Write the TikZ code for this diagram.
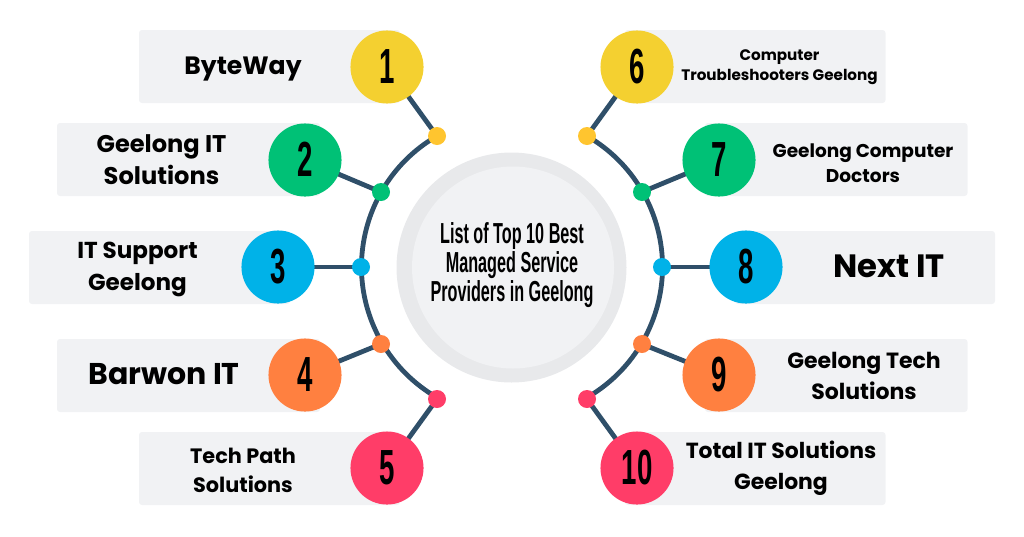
\documentclass[tikz,border=0pt]{standalone}
\usepackage{fontspec}
\setmainfont{Poppins}[BoldFont={* Bold}]
\newfontfamily\numfont{Liberation Sans Bold}[FakeStretch=0.56]
\newfontfamily\semifont{Poppins Bold}
\definecolor{barfill}{HTML}{F1F2F4}
\definecolor{ringc}{HTML}{E8E9EB}
\definecolor{linec}{HTML}{2F4F69}
\definecolor{cyel}{HTML}{F4D030}
\definecolor{cyeld}{HTML}{FFC52F}
\definecolor{cgrn}{HTML}{00C176}
\definecolor{cblu}{HTML}{00B2E8}
\definecolor{cora}{HTML}{FF8040}
\definecolor{cpnk}{HTML}{FF3D68}
\tikzset{
  barbox/.style={fill=barfill,rounded corners=2.2pt,draw=none},
  numc/.style={circle,fill=#1,minimum size=54.8pt,inner sep=0pt,font=\numfont\fontsize{37}{37}\selectfont,text=black},
  dotc/.style={circle,fill=#1,minimum size=13.5pt,inner sep=0pt},
  conn/.style={draw=linec,line width=3.6pt},
  lab/.style n args={2}{align=center,font=\semifont\fontsize{#1}{#2}\selectfont,text=black,inner sep=0pt},
}
\begin{document}
\begin{tikzpicture}[x=0.75pt,y=-0.75pt]
\useasboundingbox (0,0) rectangle (1024,536);
% bars
\fill[barbox] (139,30) rectangle (400,103);
\fill[barbox] (57,123) rectangle (320,196);
\fill[barbox] (29,231) rectangle (290,304);
\fill[barbox] (57,339) rectangle (320,412);
\fill[barbox] (139,432) rectangle (400,505);
\fill[barbox] (625,30) rectangle (885.5,103);
\fill[barbox] (705,123) rectangle (967.5,196);
\fill[barbox] (735,231) rectangle (995,304);
\fill[barbox] (705,339) rectangle (967.5,412);
\fill[barbox] (625,432) rectangle (885.5,505);
% centre
\node[circle,fill=ringc,minimum size=172.5pt,inner sep=0pt] (ring) at (511.5,267.5) {};
\node[circle,fill=barfill,minimum size=151.5pt,inner sep=0pt] (hub) at (513,267.5) {};
\node[align=center,inner sep=0pt,font=\numfont\fontsize{21.7}{21.75}\selectfont] (title) at (512,265) {List of Top 10 Best\\Managed Service\\Providers in Geelong};
\coordinate (a1) at (437,136);
\coordinate (a2) at (381,192);
\coordinate (a3) at (361,267);
\coordinate (a4) at (381,344);
\coordinate (a5) at (437,399);
\coordinate (b1) at (587,136);
\coordinate (b2) at (642,192);
\coordinate (b3) at (662,267);
\coordinate (b4) at (642,344);
\coordinate (b5) at (587,399);
\coordinate (n1) at (387,67);
\coordinate (n2) at (305,160);
\coordinate (n3) at (278,267);
\coordinate (n4) at (305,375);
\coordinate (n5) at (387,468);
\coordinate (n6) at (637,67);
\coordinate (n7) at (719,160);
\coordinate (n8) at (746,267);
\coordinate (n9) at (719,375);
\coordinate (n10) at (637,468);
% arcs
\draw[conn] (a1) arc[start angle=120,end angle=240,radius=113.25pt];
\draw[conn] (b1) arc[start angle=60,end angle=-60,radius=113.25pt];
% spokes
\foreach \p/\q in {a1/n1,a2/n2,a3/n3,a4/n4,a5/n5,b1/n6,b2/n7,b3/n8,b4/n9,b5/n10}
  \draw[conn] (\p) -- (\q);
% small dots
\node[dotc=cyeld] (d1) at (a1) {};
\node[dotc=cgrn] (d2) at (a2) {};
\node[dotc=cblu] (d3) at (a3) {};
\node[dotc=cora] (d4) at (a4) {};
\node[dotc=cpnk] (d5) at (a5) {};
\node[dotc=cyeld] (d6) at (b1) {};
\node[dotc=cgrn] (d7) at (b2) {};
\node[dotc=cblu] (d8) at (b3) {};
\node[dotc=cora] (d9) at (b4) {};
\node[dotc=cpnk] (d10) at (b5) {};
% big circles
\node[numc=cyel] (c1) at (n1) {\raisebox{1pt}{1}};
\node[numc=cgrn] (c2) at (n2) {\raisebox{1pt}{2}};
\node[numc=cblu] (c3) at (n3) {\raisebox{1pt}{3}};
\node[numc=cora] (c4) at (n4) {\raisebox{1pt}{4}};
\node[numc=cpnk] (c5) at (n5) {\raisebox{1pt}{5}};
\node[numc=cyel] (c6) at (n6) {\raisebox{1pt}{6}};
\node[numc=cgrn] (c7) at (n7) {\raisebox{1pt}{7}};
\node[numc=cblu] (c8) at (n8) {\raisebox{1pt}{8}};
\node[numc=cora] (c9) at (n9) {\raisebox{1pt}{9}};
\node[numc=cpnk] (c10) at (n10) {\raisebox{1pt}{10}};
% labels
\node[lab={18.8}{24}] (t1) at (243,69) {ByteWay};
\node[lab={18.1}{24}] (t2) at (161.5,160) {Geelong IT\\Solutions};
\node[lab={17.3}{24}] (t3) at (137.5,269) {IT Support\\Geelong};
\node[lab={22.5}{24}] (t4) at (164,374) {Barwon IT};
\node[lab={15.6}{21.7}] (t5) at (243,470) {Tech Path\\Solutions};
\node[lab={11.4}{15}] (t6) at (779.5,67) {Computer\\Troubleshooters Geelong};
\node[lab={13.9}{19}] (t7) at (863,163) {Geelong Computer\\Doctors};
\node[lab={24.2}{24}] (t8) at (889,266) {Next IT};
\node[lab={16.5}{22.7}] (t9) at (864,376) {Geelong Tech\\Solutions};
\node[lab={16.4}{23.3}] (t10) at (781,468.5) {Total IT Solutions\\Geelong};
\end{tikzpicture}
\end{document}
